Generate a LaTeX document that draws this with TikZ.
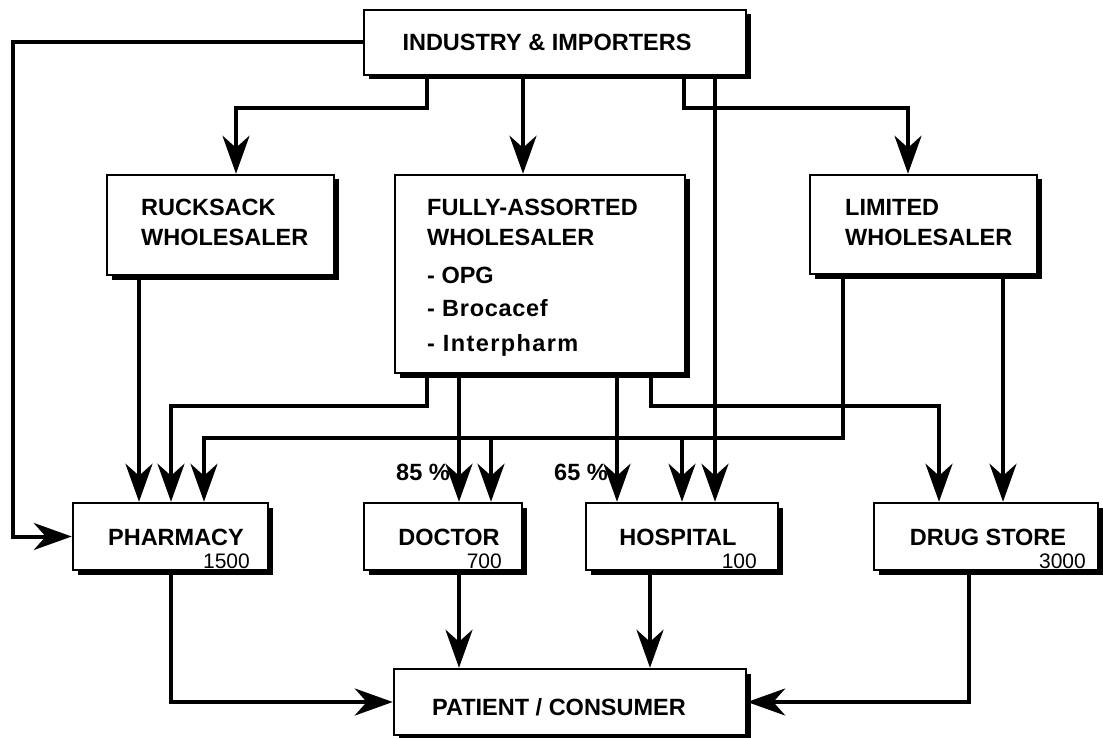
\documentclass[tikz,border=0pt]{standalone}
\usepackage{fontspec}
\setmainfont{Liberation Sans}
\usetikzlibrary{arrows.meta,shadows}
\begin{document}
\begin{tikzpicture}[x=1pt,y=-1pt,
  box/.style={draw, line width=2.5pt, fill=white, inner sep=0pt,
    drop shadow={shadow xshift=4.5pt, shadow yshift=-4.5pt, fill=black, opacity=1}},
  lbl/.style={font=\fontsize{23.5}{28}\selectfont\bfseries, inner sep=0pt, anchor=base},
  lblw/.style={lbl, anchor=base west},
  num/.style={font=\fontsize{21}{25}\selectfont, inner sep=0pt, anchor=base east},
  flow/.style={line width=4pt, line join=miter, -{Stealth[length=38pt,width=27pt,inset=12pt]}}
]
\useasboundingbox (0,0) rectangle (1103,738);

% boxes
\node[box, minimum width=382pt, minimum height=65pt] (ind) at (555,42.5) {};
\node[box, minimum width=227pt, minimum height=100pt] (ruck) at (220.5,225) {};
\node[box, minimum width=290pt, minimum height=198pt] (full) at (540,274) {};
\node[box, minimum width=227pt, minimum height=99pt] (lim) at (923.5,224.5) {};
\node[box, minimum width=195pt, minimum height=67pt] (pharm) at (170.5,536.5) {};
\node[box, minimum width=158pt, minimum height=67pt] (doc) at (443,536.5) {};
\node[box, minimum width=192pt, minimum height=67pt] (hosp) at (682,536.5) {};
\node[box, minimum width=224pt, minimum height=67pt] (drug) at (986,536.5) {};
\node[box, minimum width=352pt, minimum height=66pt] (pat) at (570,702) {};

% box texts
\node[lbl] (indt) at (547,50.5) {INDUSTRY \& IMPORTERS};
\node[lblw] (ruck1) at (141,215.5) {RUCKSACK};
\node[lblw] (ruck2) at (141,245.5) {WHOLESALER};
\node[lblw] (full1) at (427,215.5) {FULLY-ASSORTED};
\node[lblw] (full2) at (427,245.5) {WHOLESALER};
\node[lblw] (full3) at (427,283.5) {- OPG};
\node[lblw] (full4) at (427,316.5) {\addfontfeature{LetterSpace=3}- Brocacef};
\node[lblw] (full5) at (427,351.5) {\addfontfeature{LetterSpace=6}- Interpharm};
\node[lblw] (lim1) at (845,215.5) {LIMITED};
\node[lblw] (lim2) at (845,245.5) {WHOLESALER};
\node[lbl] (pharmt) at (176,545.5) {PHARMACY};
\node[lbl] (doct) at (449,545.5) {DOCTOR};
\node[lbl] (hospt) at (678,545.5) {HOSPITAL};
\node[lbl] (drugt) at (988,545.5) {DRUG STORE};
\node[lbl] (patt) at (559,715.5) {PATIENT / CONSUMER};

% outlet counts
\node[num] (pharmn) at (250,568) {1500};
\node[num] (docn) at (502,568) {700};
\node[num] (hospn) at (757,568) {100};
\node[num] (drugn) at (1086,568) {3000};

% shares
\node[lbl] (p85) at (423,480.5) {85 \%};
\node[lbl] (p65) at (581,480.5) {65 \%};

% junctions on the limited wholesaler bus
\coordinate (jdoc) at (491,438);
\coordinate (jhosp) at (682,438);

% industry & importers
\draw[flow] (ind.west) -- (ind.west -| 12.5,0) |- (pharm.west);
\draw[flow] (427,0 |- ind.south) -- (427,108) -| (236,0 |- ruck.north);
\draw[flow] (523,0 |- ind.south) -- (523,0 |- full.north);
\draw[flow] (684,0 |- ind.south) -- (684,108) -| (908,0 |- lim.north);
\draw[flow] (715,0 |- ind.south) -- (715,0 |- hosp.north);

% rucksack wholesaler
\draw[flow] (139,0 |- ruck.south) -- (139,0 |- pharm.north);

% fully-assorted wholesaler
\draw[flow] (427,0 |- full.south) -- (427,406) -| (171,0 |- pharm.north);
\draw[flow] (459,0 |- full.south) -- (459,0 |- doc.north);
\draw[flow] (617,0 |- full.south) -- (617,0 |- hosp.north);
\draw[flow] (651,0 |- full.south) -- (651,406) -| (939,0 |- drug.north);

% limited wholesaler
\draw[flow] (843,0 |- lim.south) -- (843,438) -| (204,0 |- pharm.north);
\draw[flow] (jdoc) -- (jdoc |- doc.north);
\draw[flow] (jhosp) -- (jhosp |- hosp.north);
\draw[flow] (1003,0 |- lim.south) -- (1003,0 |- drug.north);

% to the patient
\draw[flow] (171,0 |- pharm.south) |- (pat.west);
\draw[flow] (459,0 |- doc.south) -- (459,0 |- pat.north);
\draw[flow] (650,0 |- hosp.south) -- (650,0 |- pat.north);
\draw[flow] (969,0 |- drug.south) |- (pat.east);
\end{tikzpicture}
\end{document}
